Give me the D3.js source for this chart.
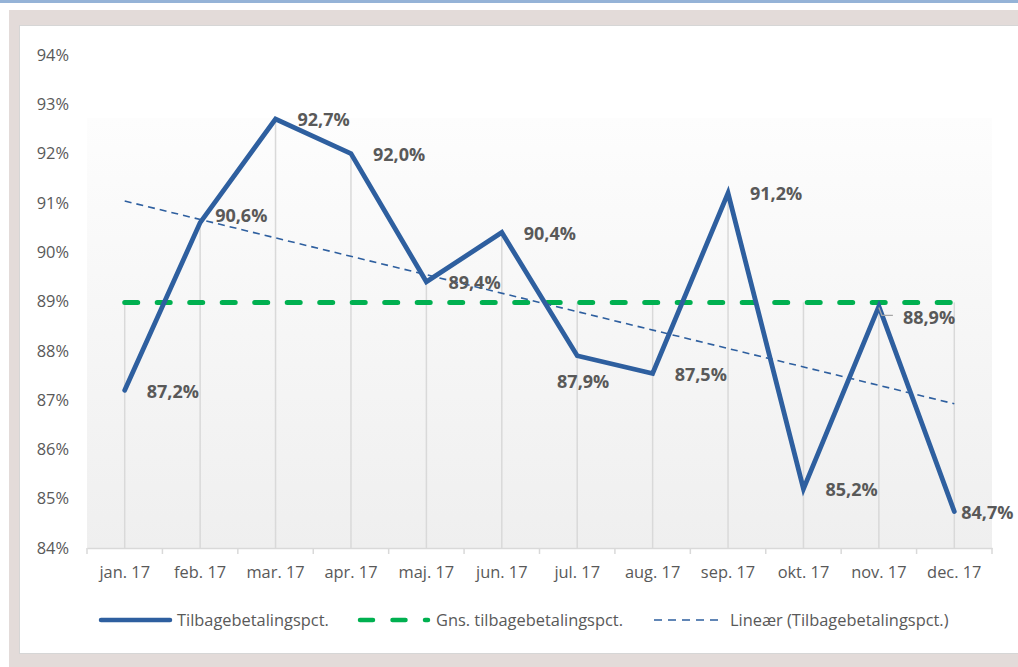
<!DOCTYPE html>
<html>
<head>
<meta charset="utf-8">
<script src="https://cdn.jsdelivr.net/npm/d3@7"></script>
<style>
  html, body { margin: 0; padding: 0; background: #ffffff; }
  svg { display: block; }
  text { font-family: "Open Sans", "Noto Sans", sans-serif; }
</style>
</head>
<body>
<svg id="chart" width="1018" height="667"></svg>
<script>
// ---- data ----
const months = ["jan. 17", "feb. 17", "mar. 17", "apr. 17", "maj. 17", "jun. 17",
                "jul. 17", "aug. 17", "sep. 17", "okt. 17", "nov. 17", "dec. 17"];
const repayPct = [87.2, 90.6, 92.7, 92.0, 89.4, 90.4, 87.9, 87.54, 91.2, 85.2, 88.9, 84.74];
const yTicks = [84, 85, 86, 87, 88, 89, 90, 91, 92, 93, 94];
const seriesNames = ["Tilbagebetalingspct.", "Gns. tilbagebetalingspct.", "Lineær (Tilbagebetalingspct.)"];
// label placement style per point
const labelPlacement = ["right", "rightUp", "right", "right", "right", "right",
                        "below", "right", "right", "right", "leader", "near"];

// ---- derived ----
const avgPct = d3.mean(repayPct);
const n = repayPct.length;
const xs = d3.range(1, n + 1);
const mx = d3.mean(xs), my = avgPct;
const slope = d3.sum(xs, (x, i) => (x - mx) * (repayPct[i] - my)) / d3.sum(xs, x => (x - mx) * (x - mx));
const trend = xs.map(x => my + slope * (x - mx));

// ---- layout ----
const svg = d3.select("#chart");
const W = 1018, H = 667;
const plot = { left: 87, right: 992, top: 55, bottom: 548 };
const fs = "16.4px";

const blue = "#2e5f9f", green = "#00b050", textCol = "#595959", gridCol = "#d9d9d9";

// page decorations
svg.append("rect").attr("x", 0).attr("y", 0).attr("width", W).attr("height", 3).attr("fill", "#95b3d7");
svg.append("rect").attr("x", 9).attr("y", 10).attr("width", W - 9).attr("height", H - 10).attr("fill", "#e3dbd9");
svg.append("rect").attr("x", 19.5).attr("y", 25.5).attr("width", W).attr("height", 628)
   .attr("fill", "#ffffff").attr("stroke", "#d6d6d6").attr("stroke-width", 1);

// gradient plot area
const defs = svg.append("defs");
const grad = defs.append("linearGradient").attr("id", "pg").attr("x1", 0).attr("y1", 0).attr("x2", 0).attr("y2", 1);
grad.append("stop").attr("offset", "0%").attr("stop-color", "#fdfdfd");
grad.append("stop").attr("offset", "100%").attr("stop-color", "#efefef");

const x = d3.scaleBand().domain(months).range([plot.left, plot.right]).paddingInner(0).paddingOuter(0);
const y = d3.scaleLinear().domain([84, 94]).range([plot.bottom, plot.top]);
const cx = m => x(m) + x.bandwidth() / 2;

svg.append("rect").attr("x", plot.left).attr("y", 118)
   .attr("width", plot.right - plot.left).attr("height", plot.bottom - 118)
   .attr("fill", "url(#pg)");

// y axis labels
const yAxis = d3.axisLeft(y).tickValues(yTicks).tickFormat(d => d + "%").tickSize(0).tickPadding(0);
const yg = svg.append("g").attr("transform", `translate(${69},0)`).call(yAxis);
yg.select(".domain").remove();
yg.selectAll("text").attr("fill", textCol).style("font-size", fs)
  .style("font-family", "'Open Sans', sans-serif");

// drop lines
svg.append("g").selectAll("line").data(repayPct).join("line")
  .attr("x1", (d, i) => cx(months[i])).attr("x2", (d, i) => cx(months[i]))
  .attr("y1", d => y(Math.max(d, avgPct))).attr("y2", y(84))
  .attr("stroke", gridCol).attr("stroke-width", 1.5);

// x axis
const xAxis = d3.axisBottom(x).tickSize(0).tickPadding(18);
const xg = svg.append("g").attr("transform", `translate(0,${plot.bottom})`).call(xAxis);
xg.select(".domain").attr("stroke", gridCol).attr("stroke-width", 1.5);
xg.selectAll("text").attr("fill", textCol).style("font-size", fs)
  .style("font-family", "'Open Sans', sans-serif");
// category boundary ticks
const bounds = months.map(m => x(m)).concat([plot.right]);
xg.selectAll("line.bt").data(bounds).join("line").attr("class", "bt")
  .attr("x1", d => d).attr("x2", d => d).attr("y1", 0).attr("y2", 6)
  .attr("stroke", gridCol).attr("stroke-width", 1.5);

// average line
svg.append("line")
  .attr("x1", cx(months[0])).attr("x2", cx(months[n - 1]))
  .attr("y1", y(avgPct)).attr("y2", y(avgPct))
  .attr("stroke", green).attr("stroke-width", 5).attr("stroke-linecap", "round")
  .attr("stroke-dasharray", "13 19.5");

// trend line
svg.append("line")
  .attr("x1", cx(months[0])).attr("x2", cx(months[n - 1]))
  .attr("y1", y(trend[0])).attr("y2", y(trend[n - 1]))
  .attr("stroke", blue).attr("stroke-width", 1.6).attr("stroke-dasharray", "7 5");

// main line
const line = d3.line().x((d, i) => cx(months[i])).y(d => y(d));
svg.append("path").datum(repayPct).attr("d", line)
  .attr("fill", "none").attr("stroke", blue).attr("stroke-width", 4.8)
  .attr("stroke-linejoin", "miter").attr("stroke-linecap", "round");

// data labels
const fmt = v => d3.format(".1f")(v).replace(".", ",") + "%";
const place = {
  right:   { dx: 22, dy: 1, anchor: "start" },
  rightUp: { dx: 15, dy: -7, anchor: "start" },
  below:   { dx: 6, dy: 26, anchor: "middle" },
  leader:  { dx: 24, dy: 11, anchor: "start" },
  near:    { dx: 7, dy: 1, anchor: "start" }
};
const lbl = svg.append("g");
repayPct.forEach((v, i) => {
  const p = place[labelPlacement[i]];
  const px = cx(months[i]), py = y(v);
  if (labelPlacement[i] === "leader") {
    lbl.append("path")
      .attr("d", `M${px},${py + 1} L${px + 3},${py + 9} L${px + 14},${py + 9}`)
      .attr("fill", "none").attr("stroke", "#a6a6a6").attr("stroke-width", 1.3);
  }
  lbl.append("text").attr("x", px + p.dx).attr("y", py + p.dy).attr("dy", "0.35em")
    .attr("text-anchor", p.anchor).attr("fill", textCol)
    .style("font-size", "18px").style("font-weight", "bold")
    .text(fmt(v));
});

// legend
const lg = svg.append("g");
const ly = 620;
lg.append("line").attr("x1", 101).attr("x2", 170).attr("y1", ly).attr("y2", ly)
  .attr("stroke", blue).attr("stroke-width", 4.5).attr("stroke-linecap", "round");
lg.append("text").attr("x", 177).attr("y", ly).attr("dy", "0.35em").attr("fill", textCol)
  .style("font-size", fs).text(seriesNames[0]);

lg.append("line").attr("x1", 360).attr("x2", 428).attr("y1", ly).attr("y2", ly)
  .attr("stroke", green).attr("stroke-width", 4.5).attr("stroke-linecap", "round")
  .attr("stroke-dasharray", "13 19.5");
lg.append("text").attr("x", 436).attr("y", ly).attr("dy", "0.35em").attr("fill", textCol)
  .style("font-size", fs).text(seriesNames[1]);

lg.append("line").attr("x1", 654).attr("x2", 718).attr("y1", ly).attr("y2", ly)
  .attr("stroke", blue).attr("stroke-width", 1.6).attr("stroke-dasharray", "8 6");
lg.append("text").attr("x", 730).attr("y", ly).attr("dy", "0.35em").attr("fill", textCol)
  .style("font-size", fs).text(seriesNames[2]);
</script>
</body>
</html>
